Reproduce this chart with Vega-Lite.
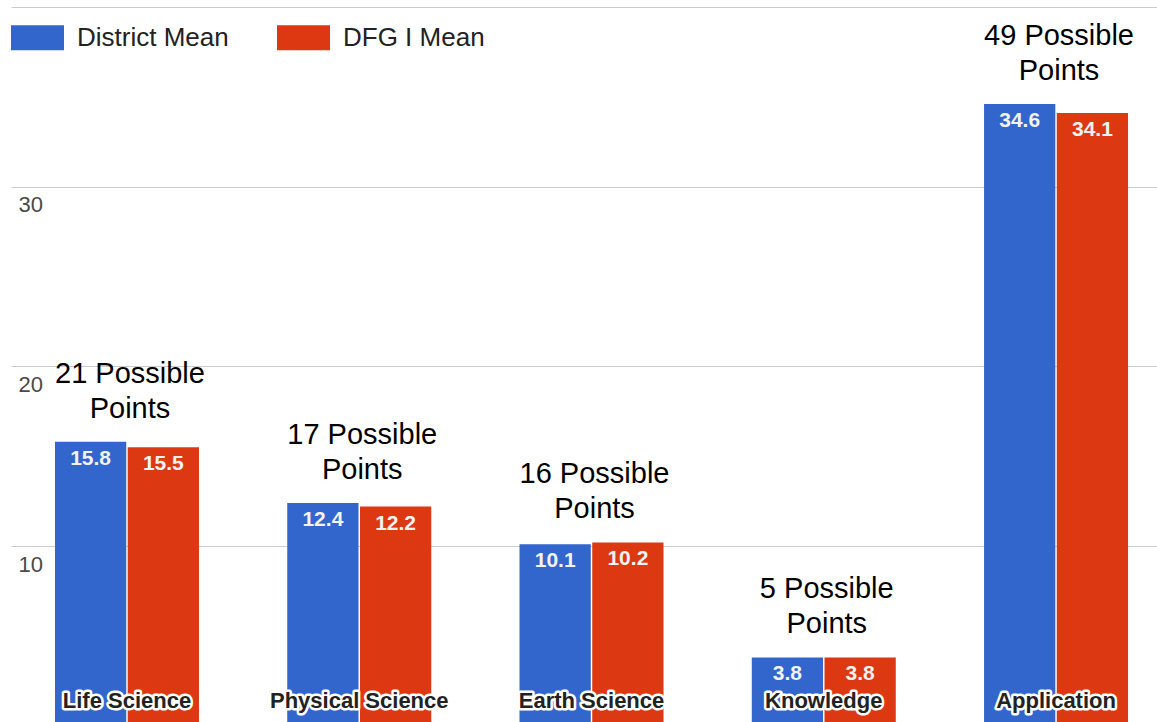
{
  "$schema": "https://vega.github.io/schema/vega-lite/v6.json",
  "width": 1146,
  "height": 715,
  "autosize": "none",
  "padding": {"left": 11, "top": 7, "right": 0, "bottom": 0},
  "config": {"view": {"stroke": null}, "font": "Liberation Sans"},
  "data": {
    "values": [
      {"category": "Life Science", "series": "District Mean", "value": 15.8, "possible": "21 Possible|Points"},
      {"category": "Life Science", "series": "DFG I Mean", "value": 15.5, "possible": "21 Possible|Points"},
      {"category": "Physical Science", "series": "District Mean", "value": 12.4, "possible": "17 Possible|Points"},
      {"category": "Physical Science", "series": "DFG I Mean", "value": 12.2, "possible": "17 Possible|Points"},
      {"category": "Earth Science", "series": "District Mean", "value": 10.1, "possible": "16 Possible|Points"},
      {"category": "Earth Science", "series": "DFG I Mean", "value": 10.2, "possible": "16 Possible|Points"},
      {"category": "Knowledge", "series": "District Mean", "value": 3.8, "possible": "5 Possible|Points"},
      {"category": "Knowledge", "series": "DFG I Mean", "value": 3.8, "possible": "5 Possible|Points"},
      {"category": "Application", "series": "District Mean", "value": 34.6, "possible": "49 Possible|Points"},
      {"category": "Application", "series": "DFG I Mean", "value": 34.1, "possible": "49 Possible|Points"}
    ]
  },
  "encoding": {
    "x": {
      "field": "category",
      "type": "nominal",
      "sort": null,
      "scale": {"paddingInner": 0.38, "paddingOuter": 0.157, "align": 0.603},
      "axis": null
    }
  },
  "layer": [
    {
      "mark": {"type": "bar", "clip": true},
      "encoding": {
        "xOffset": {"field": "series", "type": "nominal", "sort": ["District Mean", "DFG I Mean"], "scale": {"paddingInner": 0.02}},
        "y": {
          "field": "value",
          "type": "quantitative",
          "scale": {"domain": [0.21, 40], "nice": false, "zero": false},
          "axis": {
            "values": [10, 20, 30, 40],
            "labelExpr": "datum.value == 40 ? '' : datum.label",
            "ticks": false,
            "tickSize": 0,
            "domain": false,
            "grid": true,
            "gridColor": "#cccccc",
            "gridWidth": 1.2,
            "labelAlign": "left",
            "labelPadding": -7,
            "labelBaseline": "alphabetic",
            "labelOffset": 25,
            "labelFontSize": 22,
            "labelColor": "#4a4a4a",
            "labelOverlap": false,
            "labelFlush": false,
            "title": null
          }
        },
        "color": {
          "field": "series",
          "type": "nominal",
          "sort": ["District Mean", "DFG I Mean"],
          "scale": {"range": ["#3366cc", "#dc3912"]},
          "legend": {
            "orient": "none",
            "legendX": 0,
            "legendY": 4,
            "direction": "horizontal",
            "title": null,
            "symbolType": "M-1,-0.47H1V0.47H-1Z",
            "symbolSize": 2809,
            "symbolStrokeWidth": 0,
            "symbolOpacity": 1,
            "labelFontSize": 26,
            "labelColor": "#222222",
            "labelOffset": 13,
            "columnPadding": 48,
            "padding": 0
          }
        }
      }
    },
    {
      "mark": {"type": "text", "fontSize": 21, "fontWeight": "bold", "color": "#f2f2f2", "baseline": "alphabetic", "dy": 23},
      "encoding": {
        "xOffset": {"field": "series", "type": "nominal", "sort": ["District Mean", "DFG I Mean"], "scale": {"paddingInner": 0.02}},
        "y": {"field": "value", "type": "quantitative"},
        "text": {"field": "value", "type": "quantitative", "format": ".1f"}
      }
    },
    {
      "mark": {"type": "text", "fontSize": 29, "color": "#000000", "baseline": "alphabetic", "dy": -59, "dx": 3, "lineBreak": "|", "lineHeight": 35},
      "encoding": {
        "y": {"aggregate": "max", "field": "value", "type": "quantitative"},
        "text": {"field": "possible", "type": "nominal"}
      }
    },
    {
      "transform": [{"filter": "datum.series == 'District Mean'"}],
      "mark": {"type": "text", "fontSize": 22, "fontWeight": "bold", "color": "#ffffff", "stroke": "#ffffff", "strokeWidth": 5, "strokeJoin": "round", "baseline": "alphabetic"},
      "encoding": {
        "y": {"datum": 1.0, "type": "quantitative"},
        "text": {"field": "category", "type": "nominal"}
      }
    },
    {
      "transform": [{"filter": "datum.series == 'District Mean'"}],
      "mark": {"type": "text", "fontSize": 22, "fontWeight": "bold", "color": "#222222", "baseline": "alphabetic"},
      "encoding": {
        "y": {"datum": 1.0, "type": "quantitative"},
        "text": {"field": "category", "type": "nominal"}
      }
    }
  ]
}
